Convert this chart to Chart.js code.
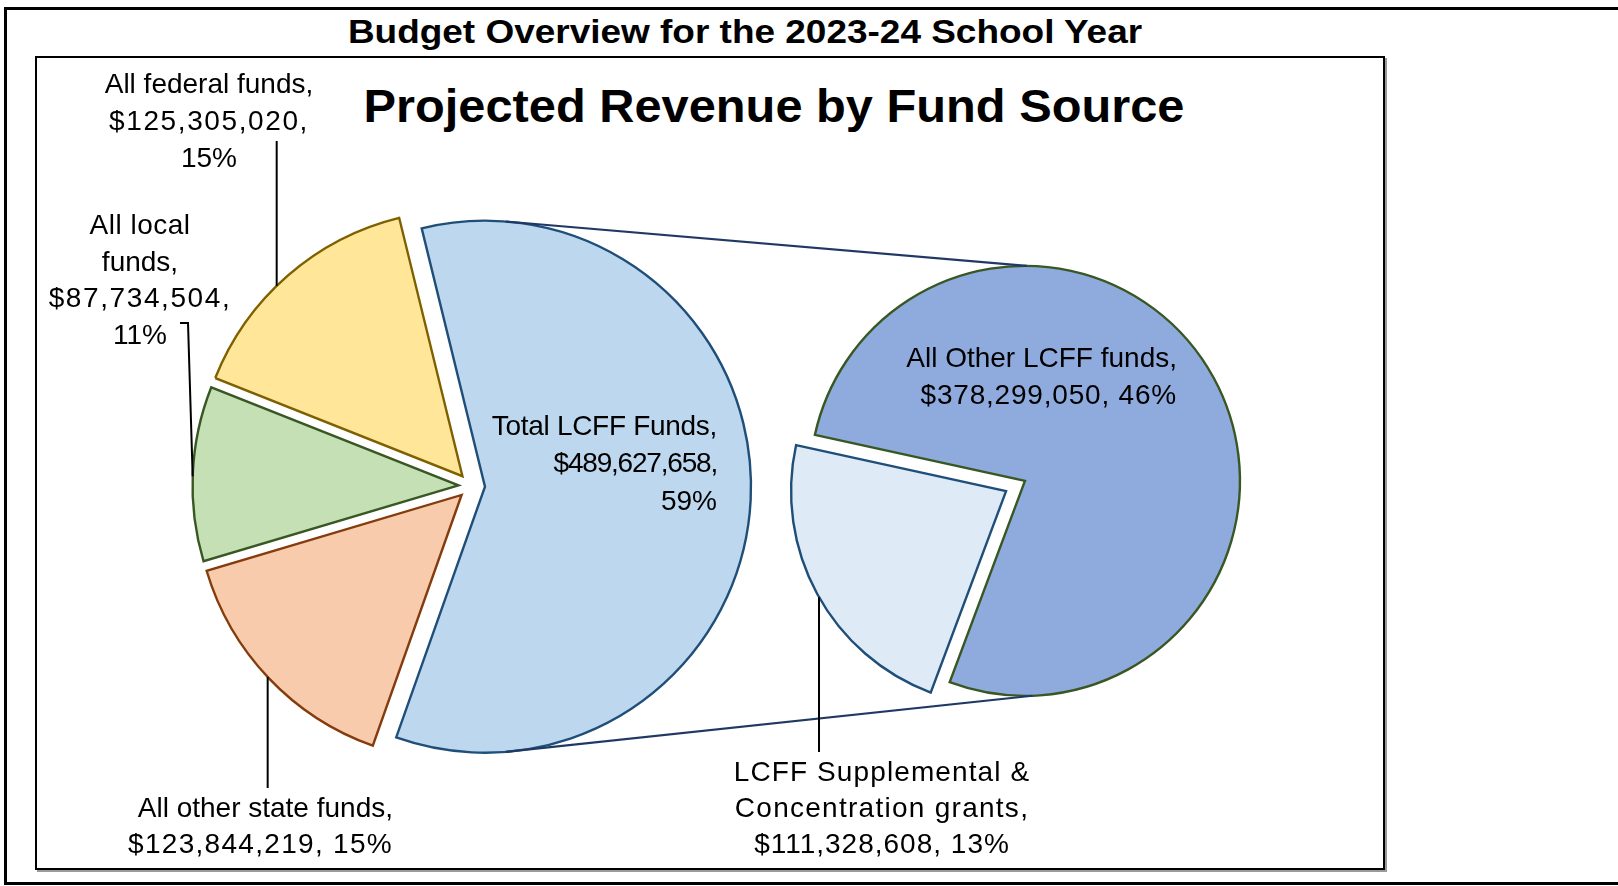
<!DOCTYPE html>
<html lang="en">
<head>
<meta charset="utf-8">
<title>Budget Overview for the 2023-24 School Year</title>
<script src="https://cdn.jsdelivr.net/npm/chart.js@4.4.1/dist/chart.umd.min.js"></script>
<style>
  html, body { margin: 0; padding: 0; background: #fff; }
  body { position: relative; width: 1618px; height: 886px; overflow: hidden;
         font-family: "Liberation Sans", Arial, sans-serif; color: #000; }
  #outer { position: absolute; left: 4px; top: 7px; width: 1700px; height: 878px;
           box-sizing: border-box; border: 3px solid #000; border-right: 0; }
  #inner { position: absolute; left: 35px; top: 56px; width: 1350px; height: 814px;
           box-sizing: border-box; border: 2px solid #000; box-shadow: 2px 2px 0 #9a9a9a; }
  .title { position: absolute; white-space: nowrap; font-weight: bold; line-height: 1; }
  #title { left: 744.5px; top: 14px; font-size: 34px; transform: translateX(-50%) scaleX(1.087); }
  #subtitle { left: 773.5px; top: 83px; font-size: 46px; transform: translateX(-50%) scaleX(1.06); }
  canvas { position: absolute; left: 0; top: 0; }
</style>
</head>
<body>
<div id="outer"></div>
<div id="inner"></div>
<div class="title" id="title">Budget Overview for the 2023-24 School Year</div>
<div class="title" id="subtitle">Projected Revenue by Fund Source</div>
<canvas id="mainPie" width="1618" height="886"></canvas>
<canvas id="splitPie" width="1618" height="886"></canvas>
<script>
// left pie: all revenue by fund source
const fundSources = ["Total LCFF Funds", "All other state funds", "All local funds", "All federal funds"];
const fundAmounts = [489627658, 123844219, 87734504, 125305020];

// right pie: what the LCFF slice is made of
const lcffParts = ["LCFF Supplemental & Concentration grants", "All Other LCFF funds"];
const lcffAmounts = [111328608, 378299050];

const grandTotal = fundAmounts.reduce((a, b) => a + b, 0);
const money = v => "$" + v.toLocaleString("en-US");
const share = v => Math.round(v / grandTotal * 100) + "%";
const labelText = (name, v) => name + ", " + money(v) + ", " + share(v);

const LABEL_FONT = '28px "Liberation Sans", Arial, sans-serif';

// where each data label sits (wrap = words per line)
const mainLabelLayout = [
  { wrap: [3, 1, 1], x: 717, y: 434.5, lh: 37.5, align: "right", spacing: [-0.3, -1.2, 0] },
  { wrap: [4, 2], x: 393, y: 816.7, lh: 36.3, align: "right", spacing: [0, 1.3],
    leader: { angle: 136.8, from: 788 } },
  { wrap: [2, 1, 1, 1], x: 140, y: 234, lh: 36.6, align: "center", spacing: [0.5, 0, 1.6, 0],
    leader: { angle: 182, path: [[180, 323], [188, 323]] } },
  { wrap: [3, 1, 1], x: 209, y: 93.3, lh: 36.7, align: "center", spacing: [0, 1.6, 0],
    leader: { angle: 225.7, from: 141 } }
];
const splitLabelLayout = [
  { wrap: [3, 2, 2], x: 882, y: 780.7, lh: 36, align: "center", spacing: [1.1, 1.27, 1.0],
    leader: { angle: 150.45, from: 752 } },
  { wrap: [4, 2], x: 1177, y: 367, lh: 37, align: "right", spacing: [0, 0.8] }
];

const rad = d => d * Math.PI / 180;
function rimPoint(arc, deg) {
  return { x: arc.x + arc.outerRadius * Math.cos(rad(deg)),
           y: arc.y + arc.outerRadius * Math.sin(rad(deg)) };
}

// pull every slice out from the centre without changing its radius
function explode(dist) {
  return {
    id: "explode",
    afterDatasetUpdate(chart, args) {
      args.meta.data.forEach((arc, i) => {
        const mid = (arc.startAngle + arc.endAngle) / 2;
        arc.x += Math.cos(mid) * dist[i];
        arc.y += Math.sin(mid) * dist[i];
      });
    }
  };
}

function sliceLabels(names, values, layout) {
  return {
    id: "sliceLabels",
    afterDraw(chart) {
      const ctx = chart.ctx;
      const arcs = chart.getDatasetMeta(0).data;
      ctx.save();
      ctx.font = LABEL_FONT;
      ctx.fillStyle = "#000";
      ctx.strokeStyle = "#000";
      ctx.lineWidth = 2;
      layout.forEach((s, i) => {
        const words = labelText(names[i], values[i]).split(" ");
        let w = 0;
        ctx.textAlign = s.align;
        s.wrap.forEach((n, li) => {
          const line = words.slice(w, w + n).join(" ");
          w += n;
          ctx.letterSpacing = (s.spacing ? s.spacing[li] : 0) + "px";
          ctx.fillText(line, s.x, s.y + li * s.lh);
        });
        if (s.leader) {
          const end = rimPoint(arcs[i], s.leader.angle);
          const pts = s.leader.path || [[end.x, s.leader.from]];
          ctx.beginPath();
          ctx.moveTo(pts[0][0], pts[0][1]);
          pts.slice(1).forEach(p => ctx.lineTo(p[0], p[1]));
          ctx.lineTo(end.x, end.y);
          ctx.stroke();
        }
      });
      ctx.restore();
    }
  };
}

const lcffDeg = fundAmounts[0] / grandTotal * 360;

const mainChart = new Chart(document.getElementById("mainPie"), {
  type: "pie",
  data: {
    labels: fundSources,
    datasets: [{
      data: fundAmounts,
      backgroundColor: ["#BDD7EE", "#F8CBAD", "#C5E0B4", "#FFE699"],
      borderColor: ["#1F4E79", "#843C0C", "#385723", "#7F6000"],
      borderWidth: 2.4,
      borderJoinStyle: "miter",
      radius: 266
    }]
  },
  options: {
    responsive: false,
    animation: false,
    events: [],
    rotation: 90 + 109.5 - lcffDeg,
    layout: { padding: { left: 171, right: 847, top: 186, bottom: 100 } },
    plugins: { legend: { display: false }, tooltip: { enabled: false } }
  },
  plugins: [explode([14, 13, 12.5, 13]), sliceLabels(fundSources, fundAmounts, mainLabelLayout)]
});

// lines joining the LCFF slice to the breakdown pie
const connectors = {
  id: "connectors",
  afterDraw(chart) {
    const from = mainChart.getDatasetMeta(0).data[0];
    const to = chart.getDatasetMeta(0).data[1];
    const ctx = chart.ctx;
    ctx.save();
    ctx.strokeStyle = "#203864";
    ctx.lineWidth = 2.2;
    [[-85.5, -89.5], [85.5, 88]].forEach(([a, b]) => {
      const p = rimPoint(from, a), q = rimPoint(to, b);
      ctx.beginPath();
      ctx.moveTo(p.x, p.y);
      ctx.lineTo(q.x, q.y);
      ctx.stroke();
    });
    ctx.restore();
  }
};

const splitChart = new Chart(document.getElementById("splitPie"), {
  type: "pie",
  data: {
    labels: lcffParts,
    datasets: [{
      data: lcffAmounts,
      backgroundColor: ["#DEEBF7", "#8FAADC"],
      borderColor: ["#1F4E79", "#385723"],
      borderWidth: 2.4,
      borderJoinStyle: "miter",
      radius: 215
    }]
  },
  options: {
    responsive: false,
    animation: false,
    events: [],
    rotation: 200.5,
    layout: { padding: { left: 715.5, right: 302.5, top: 186, bottom: 100 } },
    plugins: { legend: { display: false }, tooltip: { enabled: false } }
  },
  plugins: [explode([10.75, 10.75]), connectors, sliceLabels(lcffParts, lcffAmounts, splitLabelLayout)]
});
</script>
</body>
</html>
